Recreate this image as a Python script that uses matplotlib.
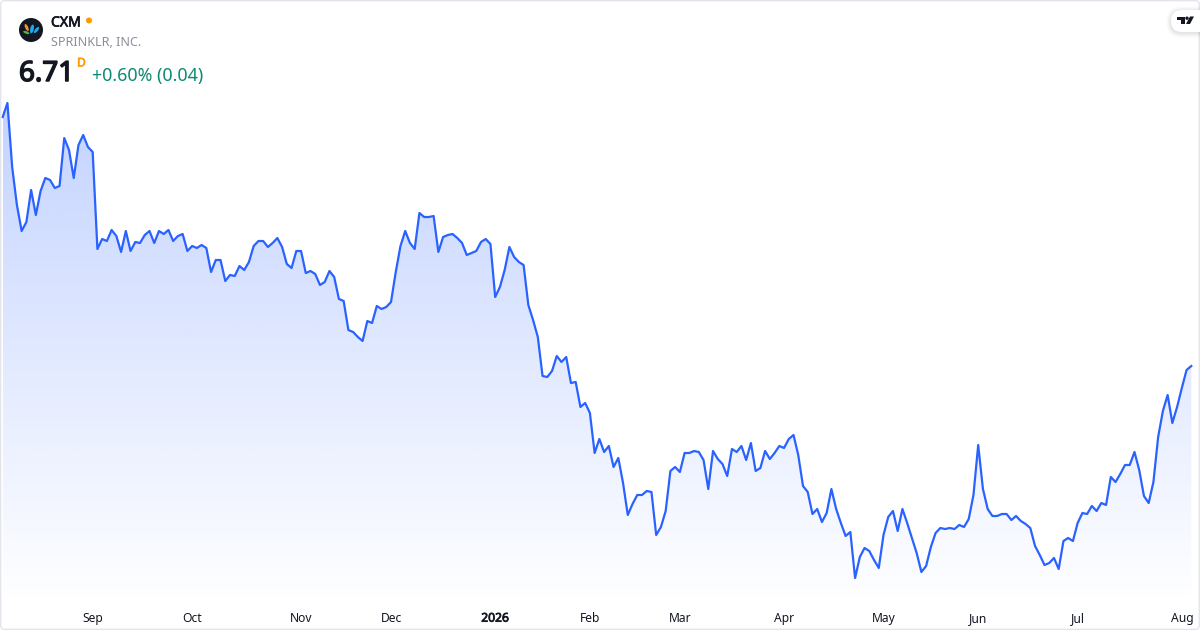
import numpy as np
import matplotlib
matplotlib.use("Agg")
import matplotlib.pyplot as plt
from matplotlib.patches import Circle, FancyBboxPatch, Polygon, Ellipse
from matplotlib.colors import LinearSegmentedColormap
import matplotlib.patheffects as pe

plt.rcParams['font.family'] = ['Noto Sans', 'DejaVu Sans']

closes = [
 9.20,9.34,8.70,8.32,8.06,8.15,8.47,8.22,8.46,8.59,8.57,8.49,8.51,8.99,8.87,8.59,8.92,9.02,8.90,8.85,
 7.88,7.98,7.96,8.07,8.01,7.85,8.06,7.86,7.95,7.94,8.02,8.06,7.94,8.06,8.03,8.07,7.96,8.01,8.03,7.86,
 7.91,7.89,7.92,7.89,7.65,7.77,7.77,7.56,7.62,7.61,7.71,7.67,7.75,7.91,7.96,7.96,7.90,7.94,7.99,7.90,
 7.73,7.69,7.86,7.86,
 7.64,7.66,7.63,7.52,7.55,7.66,7.60,7.38,7.36,7.07,7.05,7.00,6.96,7.16,7.14,7.31,7.28,7.30,7.35,7.65,
 7.91,8.06,7.94,7.88,8.24,8.20,8.20,8.21,7.85,8.00,8.02,8.03,7.99,7.94,7.82,7.84,7.86,7.95,7.98,7.93,
 7.40,7.50,7.67,7.90,7.80,7.75,7.72,7.32,7.17,7.00,6.61,6.60,6.66,6.81,6.75,6.80,6.54,6.55,6.30,6.34,
 6.24,5.84,5.98,5.85,5.91,5.70,5.79,5.54,5.22,5.33,5.42,5.42,5.46,5.45,5.02,5.10,5.26,5.66,5.70,5.65,
 5.84,5.84,5.86,5.85,5.77,5.48,5.86,5.78,5.73,5.61,5.88,5.85,5.91,5.77,5.94,5.66,5.69,5.86,5.78,5.84,
 5.91,5.89,5.98,6.02,5.82,5.51,5.45,5.23,5.28,5.15,5.24,5.48,5.28,5.14,5.01,5.05,4.59,4.80,4.89,4.86,
 4.77,4.69,5.02,5.20,5.26,5.06,5.28,5.14,4.99,4.84,4.65,4.71,4.90,5.04,5.09,5.08,5.09,5.08,5.12,5.10,
 5.18,5.42,5.92,5.48,5.28,5.21,5.21,5.23,5.23,5.17,5.21,5.16,5.13,5.09,4.91,4.82,4.72,4.74,4.79,4.68,
 4.96,4.99,4.96,5.14,5.24,5.23,5.31,5.26,5.34,5.32,5.60,5.55,5.63,5.72,5.72,5.85,5.67,5.41,5.34,5.55,
 6.00,6.26,6.42,6.14,6.30,6.49,6.67,6.71,
]
tick_index = [19, 40, 63, 82, 104, 124, 143, 165, 186, 206, 227, 249]
tick_labels = ['Sep', 'Oct', 'Nov', 'Dec', '2026', 'Feb', 'Mar', 'Apr', 'May', 'Jun', 'Jul', 'Aug']
ticker = 'CXM'
company = 'SPRINKLR, INC.'
last_price = '6.71'
change = '+0.60% (0.04)'

W, H = 1200, 630
AX_BOTTOM = 605
LINE = '#2962FF'


def faux_bold(width, color='#131722'):
    return [pe.withStroke(linewidth=width, foreground=color)]


fig = plt.figure(figsize=(12, 6.3), dpi=100, facecolor='white')
ax = fig.add_axes([0, (H - AX_BOTTOM) / H, 1, AX_BOTTOM / H])
x = np.arange(len(closes))
y = np.array(closes)
step = (1191.3 - 2.7) / (len(closes) - 1)
xlim = (-2.7 / step, (1200 - 2.7) / step)
ytop = 10.37
ylim = (ytop - AX_BOTTOM / 100, ytop)

fill = ax.fill_between(x, y, ylim[0], color='none', lw=0)
cmap = LinearSegmentedColormap.from_list('g', [(41/255, 98/255, 1, 0.28), (41/255, 98/255, 1, 0.0)])
grad = np.linspace(0, 1, 256).reshape(-1, 1)
im = ax.imshow(grad, cmap=cmap, aspect='auto', origin='upper',
               extent=[x[0], x[-1], ylim[0], y.max()], zorder=1, interpolation='bilinear')
im.set_clip_path(fill.get_paths()[0], transform=ax.transData)
ax.set_xlim(*xlim)
ax.set_ylim(*ylim)
ax.plot(x, y, color=LINE, lw=1.6, zorder=2, solid_joinstyle='round')

for s in ax.spines.values():
    s.set_visible(False)
ax.set_yticks([])
ax.set_xticks(tick_index)
ax.set_xticklabels(tick_labels, fontsize=8.7, color='#131722')
ax.tick_params(axis='x', length=0, pad=4.8)
for lab in ax.get_xticklabels():
    if lab.get_text() == '2026':
        lab.set_path_effects(faux_bold(0.55))

# overlay in pixel coordinates: frame, header, logos
ov = fig.add_axes([0, 0, 1, 1], facecolor='none')
ov.set_xlim(0, W)
ov.set_ylim(H, 0)
ov.axis('off')
ov.add_patch(FancyBboxPatch((0.7, 0.7), W - 1.4, H - 1.4, boxstyle='round,pad=0,rounding_size=4',
                            fc='none', ec='#E0E3EB', lw=0.9))

# symbol logo
ov.add_patch(Circle((31, 30), 12, fc='#131722', ec='none', zorder=3))
ov.add_patch(Ellipse((26.7, 27.5), 3.0, 7.5, angle=-25, fc='#F7931E', ec='none', zorder=4))
ov.add_patch(Ellipse((32, 29), 3.6, 9, angle=12, fc='#1EA7F0', ec='none', zorder=4))
ov.add_patch(Ellipse((36.5, 30), 3.0, 7.5, angle=40, fc='#1EA7F0', ec='none', zorder=4))
ov.add_patch(Ellipse((26.3, 32.5), 6.5, 2.6, angle=20, fc='#4CAF50', ec='none', zorder=4))

ov.text(51, 23, ticker, fontsize=10.1, color='#131722', va='center', ha='left',
        path_effects=faux_bold(0.5))
ov.add_patch(Circle((89, 20.5), 3, fc='#FF9800', ec='none'))
t = ov.text(51, 42, company, fontsize=9.0, color='#8A8E99', va='center', ha='left')
ov.text(19, 74, last_price, fontsize=20, color='#131722', va='center', ha='left',
        path_effects=faux_bold(1.1))
ov.text(77, 63, 'D', fontsize=8.7, color='#FF9800', va='center', ha='left',
        path_effects=faux_bold(0.4, '#FF9800'))
ov.text(92, 76, change, fontsize=12.8, color='#0A8A72', va='center', ha='left')

# TradingView tab with a soft shadow
for grow, alpha in [(5, 0.012), (4, 0.015), (3, 0.018), (2, 0.022), (1, 0.028)]:
    ov.add_patch(FancyBboxPatch((1171 - grow, 10 - grow + 1), 45 + grow, 22 + 2 * grow,
                                boxstyle='round,pad=0,rounding_size=%g' % (11 + grow),
                                fc='black', ec='none', alpha=alpha, zorder=5, clip_on=True))
ov.add_patch(FancyBboxPatch((1171, 10), 45, 22, boxstyle='round,pad=0,rounding_size=11',
                            fc='white', ec='none', zorder=5.5))
ov.add_patch(Polygon([(1177, 16.5), (1184.5, 16.5), (1184.5, 24), (1181, 24), (1181, 20), (1177, 20)],
                     fc='#131722', ec='none', zorder=6))
ov.add_patch(Circle((1187, 18.2), 1.7, fc='#131722', ec='none', zorder=6))
ov.add_patch(Polygon([(1190, 16.5), (1194, 16.5), (1190, 24), (1186, 24)], fc='#131722', ec='none', zorder=6))

fig.savefig('out.png', dpi=100, facecolor='white')
